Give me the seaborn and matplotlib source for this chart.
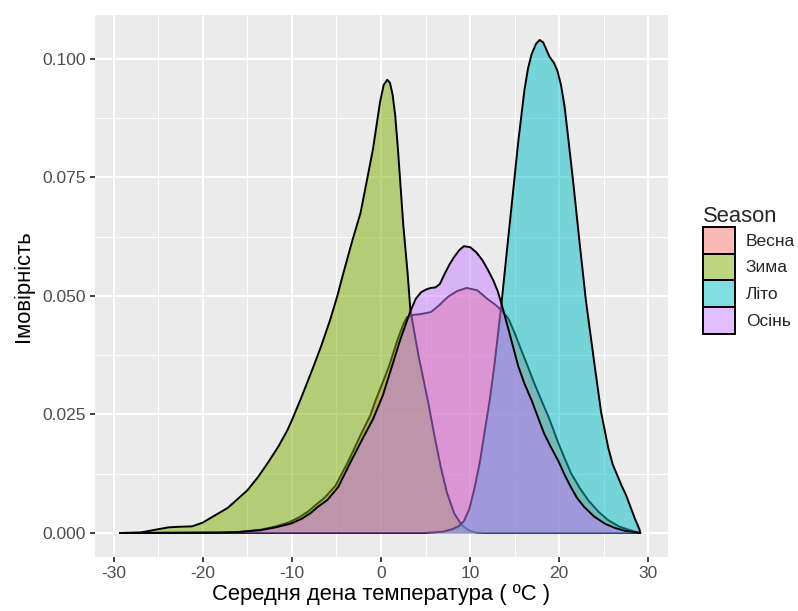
import numpy as np
import pandas as pd
import matplotlib
matplotlib.use("Agg")
import matplotlib.pyplot as plt
from matplotlib.patches import Patch
from matplotlib.colors import to_rgba
import seaborn as sns

# Оцінки щільності (температура, щільність)
seasons = ["Весна", "Зима", "Літо", "Осінь"]
colors = ["#F8766D", "#7CAE00", "#00BFC4", "#C77CFF"]

spring_x = [-29.3, -18.0, -16.0, -13.5, -12.0, -10.4, -9.2, -8.2, -7.4, -6.3, -5.1,
            -3.7, -2.2, -1.2, -0.6, 0.2, 0.9, 1.9, 2.5, 2.9, 3.6, 4.5, 5.6, 6.5,
            7.5, 8.5, 9.6, 10.8, 12.0, 12.8, 13.5, 14.3, 15.0, 15.7, 16.5, 17.2,
            18.0, 18.8, 19.9, 20.6, 21.3, 22.3, 23.3, 24.4, 25.5, 26.8, 28.1, 29.1]
spring_y = [0.0, 0.0001, 0.0002, 0.0007, 0.0013, 0.0022, 0.0033, 0.0045, 0.0058,
            0.0075, 0.0100, 0.0150, 0.0210, 0.0248, 0.0280, 0.0318, 0.0352, 0.0410,
            0.0440, 0.0455, 0.0460, 0.0462, 0.0466, 0.0480, 0.0498, 0.0510, 0.0517,
            0.0512, 0.0493, 0.0482, 0.0470, 0.0452, 0.0422, 0.0388, 0.0350, 0.0316,
            0.0280, 0.0245, 0.0190, 0.0158, 0.0127, 0.0095, 0.0068, 0.0045, 0.0027,
            0.0013, 0.0005, 0.0]

winter_x = [-29.3, -27.0, -25.0, -23.8, -22.8, -21.2, -20.0, -19.1, -17.2, -15.0,
            -13.8, -12.7, -11.5, -10.5, -10.0, -9.0, -7.6, -6.7, -5.7, -4.9, -4.2,
            -3.2, -2.3, -1.6, -0.9, -0.5, -0.1, 0.3, 0.7, 1.0, 1.3, 1.6, 1.9, 2.2,
            2.5, 3.0, 3.3, 4.2, 5.3, 6.0, 6.7, 7.4, 8.2, 9.0, 9.8, 10.6, 11.5, 29.1]
winter_y = [0.0, 0.0001, 0.0008, 0.0012, 0.0013, 0.0014, 0.0022, 0.0032, 0.0053,
            0.0090, 0.0118, 0.0148, 0.0183, 0.0217, 0.0238, 0.0283, 0.0350, 0.0395,
            0.0450, 0.0500, 0.0550, 0.0618, 0.0675, 0.0742, 0.0810, 0.0860, 0.0910,
            0.0945, 0.0956, 0.0950, 0.0925, 0.0880, 0.0810, 0.0730, 0.0650, 0.0545,
            0.0470, 0.0375, 0.0275, 0.0205, 0.0140, 0.0085, 0.0042, 0.0018, 0.0006,
            0.0001, 0.0, 0.0]

summer_x = [-29.3, 5.0, 7.0, 8.0, 8.7, 9.3, 9.9, 10.5, 11.1, 11.6, 12.2, 12.7,
            13.5, 14.1, 14.6, 15.4, 16.1, 16.5, 16.9, 17.4, 17.8, 18.2, 18.6,
            18.9, 19.4, 19.8, 20.2, 20.6, 21.0, 21.6, 22.3, 23.0, 24.0, 24.7,
            25.5, 26.0, 26.6, 27.0, 27.5, 28.0, 28.5, 29.0, 29.1]
summer_y = [0.0, 0.0, 0.0003, 0.0008, 0.0014, 0.0025, 0.0050, 0.0095, 0.0150,
            0.0210, 0.0280, 0.0350, 0.0480, 0.0590, 0.0680, 0.0825, 0.0935, 0.0980,
            0.1010, 0.1032, 0.1040, 0.1035, 0.1018, 0.1005, 0.0992, 0.0975, 0.0945,
            0.0900, 0.0835, 0.0735, 0.0610, 0.0490, 0.0350, 0.0255, 0.0180, 0.0145,
            0.0118, 0.0100, 0.0080, 0.0055, 0.0030, 0.0008, 0.0]

autumn_x = [-29.3, -18.0, -16.0, -13.5, -11.8, -10.1, -8.9, -7.9, -7.1, -6.0,
            -4.8, -3.4, -1.9, -0.9, 0.2, 1.2, 2.2, 3.3, 3.9, 4.5, 5.1, 5.6, 6.1,
            6.6, 7.1, 7.7, 8.2, 8.8, 9.3, 10.0, 10.7, 11.4, 12.0, 12.6, 13.1,
            13.5, 14.3, 15.4, 16.1, 16.9, 17.6, 18.3, 19.1, 19.9, 20.6, 21.3,
            22.0, 22.8, 23.9, 25.1, 26.2, 27.3, 29.1]
autumn_y = [0.0, 0.0001, 0.0002, 0.0006, 0.0012, 0.0020, 0.0030, 0.0042, 0.0055,
            0.0070, 0.0097, 0.0150, 0.0205, 0.0240, 0.0290, 0.0350, 0.0410, 0.0468,
            0.0494, 0.0508, 0.0514, 0.0517, 0.0518, 0.0525, 0.0545, 0.0567, 0.0582,
            0.0597, 0.0605, 0.0603, 0.0592, 0.0575, 0.0555, 0.0533, 0.0510, 0.0485,
            0.0430, 0.0352, 0.0315, 0.0280, 0.0245, 0.0210, 0.0180, 0.0152, 0.0123,
            0.0097, 0.0074, 0.0055, 0.0035, 0.0020, 0.0011, 0.0005, 0.0]

x_ticks = [-30, -20, -10, 0, 10, 20, 30]
x_minor = [-25, -15, -5, 5, 15, 25]
y_ticks = [0.0, 0.025, 0.05, 0.075, 0.1]
y_minor = [0.0125, 0.0375, 0.0625, 0.0875]
y_labels = ["0.000", "0.025", "0.050", "0.075", "0.100"]

frames = []
for name, xs, ys in [("Весна", spring_x, spring_y), ("Зима", winter_x, winter_y),
                     ("Літо", summer_x, summer_y), ("Осінь", autumn_x, autumn_y)]:
    frames.append(pd.DataFrame({"temp": xs, "density": ys, "Season": name}))
df = pd.concat(frames, ignore_index=True)

sns.set_theme(style="darkgrid", rc={
    "axes.facecolor": "#EBEBEB",
    "grid.color": "white",
    "figure.facecolor": "white",
})
plt.rcParams["font.family"] = ["Liberation Sans", "DejaVu Sans"]

fig, ax = plt.subplots(figsize=(7.98, 6.11), dpi=100)
fig.subplots_adjust(left=0.119, right=0.837, bottom=0.0884, top=0.9755)

for i, (name, col) in enumerate(zip(seasons, colors)):
    sub = df[df["Season"] == name]
    ax.fill_between(sub["temp"], 0, sub["density"], color=col, alpha=0.5,
                    linewidth=0, zorder=2 + 2 * i)
    sns.lineplot(data=sub, x="temp", y="density", color="black", linewidth=1.4,
                 sort=False, estimator=None, ax=ax, zorder=3 + 2 * i)

ax.set_xlim(-32.1, 32.2)
ax.set_ylim(-0.00506, 0.10928)
ax.set_xticks(x_ticks)
ax.set_xticklabels([str(t) for t in x_ticks])
ax.set_xticks(x_minor, minor=True)
ax.set_yticks(y_ticks)
ax.set_yticklabels(y_labels)
ax.set_yticks(y_minor, minor=True)
ax.grid(which="major", color="white", linewidth=1.5)
ax.grid(which="minor", color="white", linewidth=0.75)
ax.set_axisbelow(True)
for s in ax.spines.values():
    s.set_visible(False)
ax.tick_params(which="major", length=3.8, width=1.3, color="#333333",
               labelcolor="#4D4D4D", labelsize=12.5, pad=3, bottom=True, left=True)
ax.tick_params(which="minor", length=0)

ax.set_xlabel("Середня дена температура ( ºC )", fontsize=15.8, color="black", labelpad=2)
ax.set_ylabel("Імовірність", fontsize=15.8, color="black", labelpad=6)

handles = [Patch(facecolor=to_rgba(c, 0.5), edgecolor="black", linewidth=1.4)
           for c in colors]
leg = fig.legend(handles, seasons, loc="upper left", bbox_to_anchor=(0.881, 0.663),
                 frameon=False, title="Season", alignment="left",
                 fontsize=12.5, title_fontsize=15.8, handlelength=1.85,
                 handleheight=1.99, handletextpad=0.62, labelspacing=0.0,
                 borderpad=0.0, borderaxespad=0.0)

fig.savefig("out.png", dpi=100)
